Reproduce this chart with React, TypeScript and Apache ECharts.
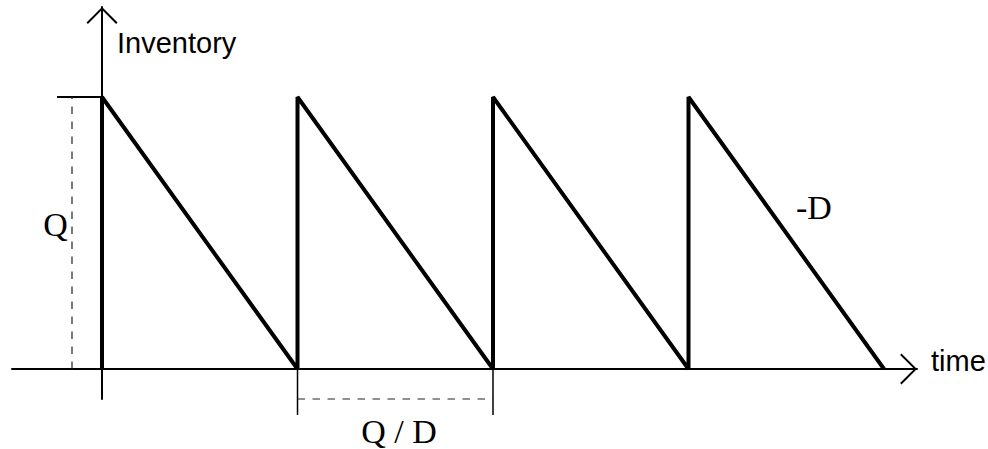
import { useEffect, useRef } from "react";
import * as echarts from "echarts";

// ---- Diagram quantities (time in units of Q/D, inventory in units of Q) ----
const orderTimes = [0, 1, 2, 3]; // instants at which a batch of size Q arrives
const cycleEnd = 4; // time at which the last batch runs out
const orderQuantity = 1; // Q
const cycleSpan = [1, 2]; // the interval marked "Q / D"

// ---- Texts ----
const yAxisName = "Inventory";
const xAxisName = "time";
const quantityLabel = "Q";
const rateLabel = "-D";
const cycleLabel = "Q / D";

// ---- Layout (axis extents and guide positions, in axis units) ----
const X_MIN = -0.4604;
const X_MAX = 4.1688;
const Y_MIN = -0.1103;
const Y_MAX = 1.3309;
const Q_GUIDE_X = -0.1535;
const Q_CAP_START = -0.2302;
const TICK_DEPTH = -0.169;

const CHEVRON = "path://M15.5,0 L31,15.5 L29.6,16.9 L15.5,2.8 L1.4,16.9 L0,15.5 Z";

export default function App() {
  const ref = useRef<HTMLDivElement>(null);

  useEffect(() => {
    if (!ref.current) return;
    const chart = echarts.init(ref.current, undefined, { renderer: "svg" });

    const saw: number[][] = [];
    orderTimes.forEach((t) => {
      saw.push([t, 0], [t, orderQuantity]);
    });
    saw.push([cycleEnd, 0]);

    const axisLine = {
      show: true,
      onZero: true,
      lineStyle: { color: "#000", width: 2 },
      symbol: ["none", CHEVRON],
      symbolSize: [31, 16.9],
      symbolOffset: [0, -8.45],
    };

    const sans = '"Liberation Sans", Arial, Helvetica, sans-serif';
    const serif = '"Liberation Serif", "Times New Roman", Times, serif';
    const dash = { color: "#222", width: 1.2, type: [7.5, 7.5] };

    chart.setOption({
      animation: false,
      backgroundColor: "#fff",
      grid: { left: 12, right: 71, top: 7, bottom: 50, containLabel: false },
      xAxis: {
        type: "value",
        min: X_MIN,
        max: X_MAX,
        axisLine,
        axisTick: { show: false },
        axisLabel: { show: false },
        splitLine: { show: false },
      },
      yAxis: {
        type: "value",
        min: Y_MIN,
        max: Y_MAX,
        axisLine,
        axisTick: { show: false },
        axisLabel: { show: false },
        splitLine: { show: false },
      },
      series: [
        {
          type: "line",
          data: saw,
          symbol: "none",
          clip: false,
          lineStyle: { color: "#000", width: 4 },
          z: 5,
        },
        {
          type: "line",
          data: [
            [Q_CAP_START, orderQuantity],
            [0, orderQuantity],
          ],
          symbol: "none",
          clip: false,
          lineStyle: { color: "#000", width: 2 },
        },
        {
          type: "line",
          data: [
            [Q_GUIDE_X, 0],
            [Q_GUIDE_X, orderQuantity],
          ],
          symbol: "none",
          clip: false,
          lineStyle: dash,
        },
        ...cycleSpan.map((t) => ({
          type: "line",
          data: [
            [t, 0],
            [t, TICK_DEPTH],
          ],
          symbol: "none",
          clip: false,
          lineStyle: { color: "#000", width: 1.5 },
        })),
        {
          type: "line",
          data: [
            [cycleSpan[0], Y_MIN],
            [cycleSpan[1], Y_MIN],
          ],
          symbol: "none",
          clip: false,
          lineStyle: dash,
        },
      ],
      graphic: [
        {
          type: "text",
          x: 117,
          y: 42.5,
          style: {
            text: yAxisName,
            font: `29px ${sans}`,
            fill: "#000",
            textAlign: "left",
            textVerticalAlign: "middle",
          },
        },
        {
          type: "text",
          x: 931,
          y: 361,
          style: {
            text: xAxisName,
            font: `29px ${sans}`,
            fill: "#000",
            textAlign: "left",
            textVerticalAlign: "middle",
          },
        },
        {
          type: "text",
          x: 55.5,
          y: 224,
          style: {
            text: quantityLabel,
            font: `34px ${serif}`,
            fill: "#000",
            textAlign: "center",
            textVerticalAlign: "middle",
          },
        },
        {
          type: "text",
          x: 796,
          y: 207,
          style: {
            text: rateLabel,
            font: `34px ${serif}`,
            fill: "#000",
            textAlign: "left",
            textVerticalAlign: "middle",
          },
        },
        {
          type: "text",
          x: 399,
          y: 431,
          style: {
            text: cycleLabel,
            font: `34px ${serif}`,
            fill: "#000",
            textAlign: "center",
            textVerticalAlign: "middle",
          },
        },
      ],
    });

    return () => chart.dispose();
  }, []);

  return (
    <div
      ref={ref}
      style={{ position: "fixed", left: 0, top: 0, width: 988, height: 449, background: "#fff" }}
    />
  );
}
